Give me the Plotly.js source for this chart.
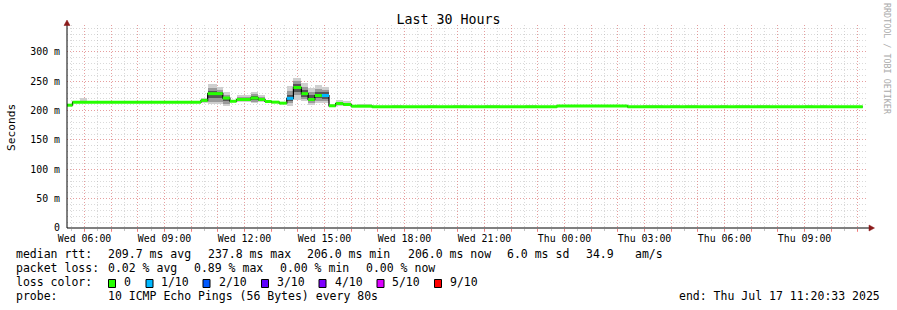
<!DOCTYPE html>
<html><head><meta charset="utf-8">
<script src="https://cdn.plot.ly/plotly-3.0.1.min.js"></script>
<style>html,body{margin:0;padding:0;background:#fff}#chart{width:897px;height:310px}</style>
</head><body><div id="chart"></div>
<script>
// ---------- data ----------
const T0 = '2025-07-16 05:20:33';
const T1 = '2025-07-17 11:20:33';

// median RTT step segments (ms) and loss class index
const medStart = ['2025-07-16 05:20:33','2025-07-16 05:33','2025-07-16 10:22','2025-07-16 10:37','2025-07-16 11:11',
  '2025-07-16 11:27','2025-07-16 11:42','2025-07-16 12:14','2025-07-16 12:31','2025-07-16 12:46','2025-07-16 13:01',
  '2025-07-16 13:18','2025-07-16 13:35','2025-07-16 13:50','2025-07-16 14:08','2025-07-16 14:23','2025-07-16 14:38',
  '2025-07-16 14:54','2025-07-16 15:10','2025-07-16 15:25','2025-07-16 15:42','2025-07-16 16:00','2025-07-16 16:47',
  '2025-07-16 23:43','2025-07-17 02:22'];
const medEnd = '2025-07-17 11:11';
const medVal = [209.3,214.5,217.5,229,221.5,216,219,221.5,219,215.6,214.5,212.8,221,239.5,229,219,225.8,225.8,
  208.3,212.2,210.5,207.6,206.6,208,206.6];
const medLoss = [0,0,0,0,0,0,0,0,0,0,0,0,1,0,0,0,0,1,0,0,0,0,0,0,0];

// smoke (ping spread) segments: outer / middle / core bands (ms)
const smokeFrom = ['2025-07-16 05:50','2025-07-16 06:23','2025-07-16 08:11','2025-07-16 09:03','2025-07-16 10:22',
  '2025-07-16 10:37','2025-07-16 10:57','2025-07-16 11:11','2025-07-16 11:27','2025-07-16 11:42','2025-07-16 12:14',
  '2025-07-16 12:31','2025-07-16 12:46','2025-07-16 13:01','2025-07-16 13:18','2025-07-16 13:35','2025-07-16 13:50',
  '2025-07-16 14:08','2025-07-16 14:23','2025-07-16 14:38','2025-07-16 14:54','2025-07-16 15:10','2025-07-16 15:25',
  '2025-07-16 15:42','2025-07-16 16:13','2025-07-16 17:32','2025-07-16 18:52','2025-07-16 19:49','2025-07-16 21:01',
  '2025-07-16 22:31','2025-07-17 02:56','2025-07-17 03:57','2025-07-17 04:31','2025-07-17 05:50','2025-07-17 06:23',
  '2025-07-17 07:13','2025-07-17 09:01','2025-07-17 09:35'];
const smokeTo = ['2025-07-16 06:05','2025-07-16 07:42','2025-07-16 08:31','2025-07-16 09:35','2025-07-16 10:37',
  '2025-07-16 10:57','2025-07-16 11:11','2025-07-16 11:27','2025-07-16 11:42','2025-07-16 12:14','2025-07-16 12:31',
  '2025-07-16 12:46','2025-07-16 13:01','2025-07-16 13:18','2025-07-16 13:35','2025-07-16 13:50','2025-07-16 14:08',
  '2025-07-16 14:23','2025-07-16 14:38','2025-07-16 14:54','2025-07-16 15:10','2025-07-16 15:25','2025-07-16 15:42',
  '2025-07-16 16:00','2025-07-16 16:47','2025-07-16 17:54','2025-07-16 19:13','2025-07-16 20:20','2025-07-16 21:35',
  '2025-07-16 22:58','2025-07-17 03:41','2025-07-17 04:20','2025-07-17 05:00','2025-07-17 06:08','2025-07-17 06:57',
  '2025-07-17 07:42','2025-07-17 09:19','2025-07-17 09:51'];
const outerLo = [214,214,214,214,213,211,211,208,214,214,213,214,213,214,212,208.8,219,216,210.5,213,213,206,208,208,
  206,206,206,206,206,206,206,206,206,206,206,206,206,206];
const outerHi = [221,217,216.5,216.5,222,245,241,231,218,227,231,227,219,215.5,213.5,241.7,256,247.5,239,243,240.5,211,218,216,
  211,210.5,210.5,210.5,210.5,210.5,210.5,210.5,210.5,210.5,210.5,210.5,210.5,210.5];
const midLo = [214,null,null,null,214.5,215,215,212,null,216,215,216,214,null,null,213,226,220,213,217,216,null,210,209,
  null,null,null,null,null,null,null,null,null,null,null,null,null,null];
const midHi = [216.5,null,null,null,220,238,235,227,null,224,228,223,217,null,null,233,250,241,232,237,235,null,215,213,
  null,null,null,null,null,null,null,null,null,null,null,null,null,null];
const coreLo = [null,null,null,null,216,221,221,216,null,217,218,217,null,null,null,216,232,224,216,221,220,null,null,null,
  null,null,null,null,null,null,null,null,null,null,null,null,null,null];
const coreHi = [null,null,null,null,219,233,232,224,null,221,225,221,null,null,null,226,246,235,226,231,231,null,null,null,
  null,null,null,null,null,null,null,null,null,null,null,null,null,null];

const lossColors = ['#26ff00','#00b8ff','#0059ff','#5e00ff','#7e00ff','#dd00ff','#ff0000'];
const lossLabels = ['0','1/10','2/10','3/10','4/10','5/10','9/10'];

const xTickTimes = ['2025-07-16 06:00','2025-07-16 09:00','2025-07-16 12:00','2025-07-16 15:00','2025-07-16 18:00',
  '2025-07-16 21:00','2025-07-17 00:00','2025-07-17 03:00','2025-07-17 06:00','2025-07-17 09:00'];
const xTickLabels = ['Wed 06:00','Wed 09:00','Wed 12:00','Wed 15:00','Wed 18:00','Wed 21:00',
  'Thu 00:00','Thu 03:00','Thu 06:00','Thu 09:00'];
const yTickVals = [0,50,100,150,200,250,300];
const yTickLabels = ['0','50 m','100 m','150 m','200 m','250 m','300 m'];

const statsRtt = ['209.7 ms avg','237.8 ms max','206.0 ms min','206.0 ms now','6.0 ms sd','34.9','am/s'];
const statsLoss = ['0.02 % avg','0.89 % max','0.00 % min','0.00 % now'];
const probeText = '10 ICMP Echo Pings (56 Bytes) every 80s';
const endText = 'end: Thu Jul 17 11:20:33 2025';

// ---------- layout helpers ----------
const MONO = 'DejaVu Sans Mono, monospace';
const L = 67, R = 867, T = 25, B = 228;
const px = v => (v - L) / (R - L);
const py = v => (B - v) / (B - T);
const ms = s => Date.parse(s.replace(' ', 'T') + (s.length === 16 ? ':00' : '') + 'Z');

const traces = [];
function band(lo, hi, color) {
  const x = [], y = [], base = [], width = [];
  for (let i = 0; i < smokeFrom.length; i++) {
    if (lo[i] == null) continue;
    const a = ms(smokeFrom[i]), b = ms(smokeTo[i]);
    x.push((a + b) / 2); width.push(b - a); base.push(lo[i]); y.push(hi[i] - lo[i]);
  }
  return {type:'bar', x, y, base, width, marker:{color, line:{width:0}}, hoverinfo:'skip', showlegend:false};
}
traces.push(band(outerLo, outerHi, '#cfcfcf'));
traces.push(band(midLo, midHi, '#9a9a9a'));
traces.push(band(coreLo, coreHi, '#555555'));

// thin black step line (shows transitions)
const stepX = medStart.map(ms).concat([ms(medEnd)]);
const stepY = medVal.concat([medVal[medVal.length - 1]]);
traces.push({type:'scatter', mode:'lines', x:stepX, y:stepY, line:{color:'#000', width:1.2, shape:'hv'}, hoverinfo:'skip'});

// coloured median segments by loss class
lossColors.forEach((c, k) => {
  const x = [], y = [];
  for (let i = 0; i < medStart.length; i++) {
    if (medLoss[i] !== k) continue;
    const a = ms(medStart[i]), b = i + 1 < medStart.length ? ms(medStart[i + 1]) : ms(medEnd);
    x.push(a, b, null); y.push(medVal[i], medVal[i], null);
  }
  if (x.length) traces.push({type:'scatter', mode:'lines', x, y, line:{color:c, width:3}, connectgaps:false, hoverinfo:'skip'});
});

// hourly ticks, labels every 3 hours
const hourVals = [], hourText = [];
for (let t = ms('2025-07-16 06:00'); t <= ms(T1); t += 3600000) {
  hourVals.push(t);
  const j = xTickTimes.map(ms).indexOf(t);
  hourText.push(j >= 0 ? xTickLabels[j] : '');
}

const annotations = [];
function txt(x, y, text, opts) {
  annotations.push(Object.assign({xref:'paper', yref:'paper', x:px(x), y:py(y), text, showarrow:false,
    xanchor:'left', yanchor:'middle', font:{family:MONO, size:11.5, color:'#000'}, borderpad:0}, opts || {}));
}
txt(11, 127, 'Seconds', {xanchor:'center', textangle:-90, font:{family:MONO, size:11.2, color:'#000'}});
txt(887, 59, 'RRDTOOL / TOBI OETIKER', {xanchor:'center', textangle:90, font:{family:MONO, size:8.4, color:'#aaaaaa'}});

const row = [254.3, 268.3, 282.3, 296.3];
txt(15, row[0], 'median rtt:');
[106.5, 206.5, 306, 407.3, 506, 585, 634.3].forEach((x, i) => txt(x, row[0], statsRtt[i]));
txt(15, row[1], 'packet loss:');
[106.5, 192.5, 278.5, 365].forEach((x, i) => txt(x, row[1], statsLoss[i]));
txt(15, row[2], 'loss color:');
const boxX = [108.5, 146, 203, 261.5, 319, 377, 434.5];
const labX = [122.5, 159.5, 217.5, 275.5, 333.5, 391, 449.3];
const shapes = [];
lossLabels.forEach((lab, i) => {
  txt(labX[i], row[2], lab);
  shapes.push({type:'rect', xref:'paper', yref:'paper', x0:px(boxX[i]), x1:px(boxX[i] + 7), y0:py(287.5), y1:py(279.5),
    fillcolor:lossColors[i], line:{color:'#000', width:1}});
});
txt(15, row[3], 'probe:');
txt(106.5, row[3], probeText);
txt(677.5, row[3], endText);

// axis extensions and arrow heads
shapes.push({type:'line', xref:'paper', yref:'paper', x0:0, x1:px(871), y0:0, y1:0, line:{color:'#000', width:1}});
shapes.push({type:'line', xref:'paper', yref:'paper', x0:0, x1:0, y0:0, y1:py(24), line:{color:'#000', width:1}});
shapes.push({type:'path', xref:'paper', yref:'paper', fillcolor:'#8b1a1a', line:{color:'#8b1a1a', width:0.5},
  path:`M ${px(64)} ${py(25.5)} L ${px(70)} ${py(25.5)} L ${px(67)} ${py(20)} Z`});
shapes.push({type:'path', xref:'paper', yref:'paper', fillcolor:'#8b1a1a', line:{color:'#8b1a1a', width:0.5},
  path:`M ${px(869)} ${py(225)} L ${px(869)} ${py(231)} L ${px(874.5)} ${py(228)} Z`});

const layout = {
  width:897, height:310, margin:{l:L, r:897 - R, t:T, b:310 - B},
  paper_bgcolor:'#fff', plot_bgcolor:'#fff', barmode:'overlay', bargap:0, showlegend:false,
  font:{family:MONO, color:'#000'},
  title:{text:'Last 30 Hours', font:{family:MONO, size:13.3, color:'#000'}, xref:'container', x:0.5, xanchor:'center',
    yref:'container', y:1 - 19/310, yanchor:'middle'},
  xaxis:{type:'date', range:[ms(T0), ms(T1)], tickmode:'array', tickvals:hourVals, ticktext:hourText,
    ticks:'outside', ticklen:3, tickcolor:'rgba(255,80,80,0.6)', tickwidth:1, ticklabelstandoff:-2,
    showgrid:true, gridcolor:'rgba(240,110,110,0.55)', griddash:'1px,2px', gridwidth:1,
    minor:{dtick:1800000, tick0:'2025-07-16 05:30', showgrid:true, gridcolor:'rgba(170,170,170,0.45)', griddash:'1px,2px',
      ticks:'outside', ticklen:2, tickcolor:'rgba(170,170,170,0.7)'},
    showline:false, zeroline:false, tickfont:{family:MONO, size:9.9, color:'#000'}, fixedrange:true},
  yaxis:{range:[0, 346], tickmode:'array', tickvals:yTickVals, ticktext:yTickLabels, ticks:'',
    showgrid:true, gridcolor:'rgba(240,110,110,0.55)', griddash:'1px,2px', gridwidth:1,
    minor:{dtick:10, tick0:0, showgrid:true, gridcolor:'rgba(170,170,170,0.45)', griddash:'1px,2px'},
    showline:false, zeroline:false, tickfont:{family:MONO, size:9.9, color:'#000'}, ticklabelstandoff:6, fixedrange:true},
  annotations, shapes
};
Plotly.newPlot('chart', traces, layout, {displayModeBar:false, staticPlot:true});
</script></body></html>
